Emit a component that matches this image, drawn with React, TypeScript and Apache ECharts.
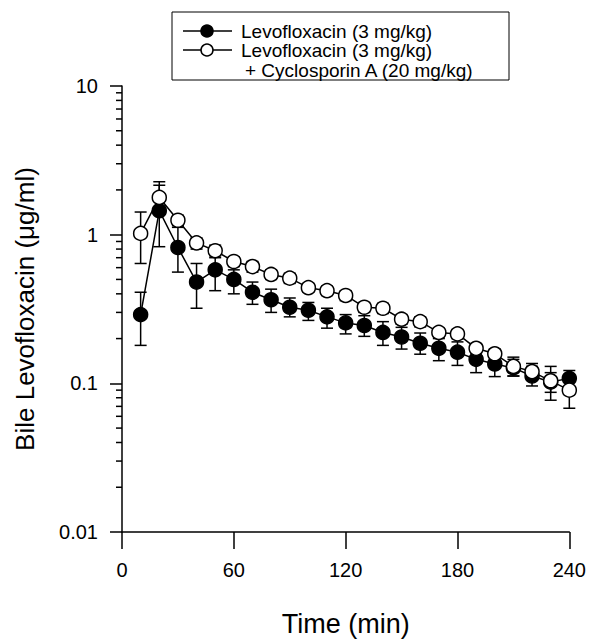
import React, { useEffect, useRef } from "react";
import * as echarts from "echarts";

const times = [10, 20, 30, 40, 50, 60, 70, 80, 90, 100, 110, 120, 130, 140, 150, 160, 170, 180, 190, 200, 210, 220, 230, 240];

const levoMean = [0.29, 1.45, 0.82, 0.48, 0.58, 0.5, 0.41, 0.365, 0.325, 0.31, 0.28, 0.255, 0.245, 0.22, 0.205, 0.186, 0.172, 0.162, 0.145, 0.135, 0.127, 0.112, 0.102, 0.108];
const levoUpper = [0.41, 2.15, 1.12, 0.64, 0.7, 0.58, 0.48, 0.43, 0.375, 0.35, 0.32, 0.29, 0.285, 0.26, 0.238, 0.218, 0.2, 0.19, 0.165, 0.15, 0.145, 0.13, 0.118, 0.122];
const levoLower = [0.18, 0.83, 0.56, 0.32, 0.42, 0.4, 0.34, 0.3, 0.28, 0.265, 0.235, 0.215, 0.207, 0.18, 0.17, 0.157, 0.142, 0.132, 0.118, 0.111, 0.112, 0.096, 0.087, 0.095];

const cyaMean = [1.02, 1.78, 1.25, 0.88, 0.78, 0.66, 0.61, 0.54, 0.51, 0.44, 0.42, 0.39, 0.325, 0.32, 0.27, 0.26, 0.22, 0.215, 0.172, 0.158, 0.13, 0.12, 0.104, 0.09];
const cyaUpper = [1.42, 2.27, 1.35, 0.95, 0.85, 0.71, 0.66, 0.58, 0.55, 0.47, 0.45, 0.42, 0.35, 0.345, 0.29, 0.28, 0.235, 0.23, 0.185, 0.17, 0.15, 0.136, 0.13, 0.105];
const cyaLower = [0.64, 1.4, 1.15, 0.8, 0.72, 0.61, 0.56, 0.5, 0.47, 0.41, 0.39, 0.36, 0.3, 0.295, 0.25, 0.24, 0.205, 0.2, 0.16, 0.146, 0.112, 0.105, 0.077, 0.068];

const xTicks = [0, 60, 120, 180, 240];
const yMinorTicks = [0.02, 0.03, 0.04, 0.05, 0.06, 0.07, 0.08, 0.09, 0.2, 0.3, 0.4, 0.5, 0.6, 0.7, 0.8, 0.9, 2, 3, 4, 5, 6, 7, 8, 9];

const legendLabels = ["Levofloxacin (3 mg/kg)", "Levofloxacin (3 mg/kg)", "+ Cyclosporin A (20 mg/kg)"];

const FONT = "Liberation Sans, Arial, Helvetica, sans-serif";

function errorSeries(name: string, mean: number[], up: number[], lo: number[]) {
  const data = times.map((t, i) => [t, mean[i], up[i], lo[i]]);
  return {
    type: "custom",
    name,
    data,
    z: 2,
    silent: true,
    renderItem: (params: any, api: any) => {
      const x = api.value(0);
      const pTop = api.coord([x, api.value(2)]);
      const pBot = api.coord([x, api.value(3)]);
      const w = 6;
      const st = { stroke: "#000", lineWidth: 1.5 };
      return {
        type: "group",
        children: [
          { type: "line", shape: { x1: pTop[0], y1: pTop[1], x2: pBot[0], y2: pBot[1] }, style: st },
          { type: "line", shape: { x1: pTop[0] - w, y1: pTop[1], x2: pTop[0] + w, y2: pTop[1] }, style: st },
          { type: "line", shape: { x1: pBot[0] - w, y1: pBot[1], x2: pBot[0] + w, y2: pBot[1] }, style: st },
        ],
      };
    },
  };
}

export default function App() {
  const ref = useRef<HTMLDivElement>(null);
  useEffect(() => {
    if (!ref.current) return;
    const chart = echarts.init(ref.current, undefined, { renderer: "svg" });
    const legendX = 183;
    const rows = [31, 50, 70];
    const option: any = {
      animation: false,
      backgroundColor: "#fff",
      textStyle: { fontFamily: FONT },
      grid: { left: 122, right: 18, top: 86, bottom: 97, containLabel: false },
      xAxis: {
        type: "value",
        min: 0,
        max: 240,
        interval: 60,
        name: "Time (min)",
        nameLocation: "middle",
        nameGap: 78,
        nameTextStyle: { fontSize: 27, color: "#000", fontFamily: FONT },
        axisLine: { lineStyle: { color: "#000", width: 1.5 } },
        axisTick: { show: true, inside: false, length: 17, lineStyle: { color: "#000", width: 1.5 } },
        axisLabel: { color: "#000", fontSize: 20, margin: 28, fontFamily: FONT, formatter: (v: number) => (xTicks.includes(v) ? String(v) : "") },
        splitLine: { show: false },
      },
      yAxis: {
        type: "log",
        logBase: 10,
        min: 0.01,
        max: 10,
        name: "Bile Levofloxacin (\u03bcg/ml)",
        nameLocation: "middle",
        nameGap: 84,
        nameTextStyle: { fontSize: 26, color: "#000", fontFamily: FONT },
        axisLine: { lineStyle: { color: "#000", width: 1.5 } },
        axisTick: { show: true, inside: false, length: 12, lineStyle: { color: "#000", width: 1.5 } },
        axisLabel: {
          color: "#000",
          fontSize: 20,
          margin: 24,
          fontFamily: FONT,
          formatter: (v: number) => (v >= 1 ? String(Math.round(v)) : String(Number(v.toPrecision(1)))),
        },
        splitLine: { show: false },
      },
      series: [
        {
          type: "custom",
          name: "minorTicks",
          data: yMinorTicks.map((v) => [0, v]),
          silent: true,
          z: 1,
          clip: false,
          renderItem: (params: any, api: any) => {
            const p = api.coord([0, api.value(1)]);
            return {
              type: "line",
              shape: { x1: p[0] - 6, y1: p[1], x2: p[0], y2: p[1] },
              style: { stroke: "#000", lineWidth: 1.5 },
            };
          },
        },
        errorSeries("levoErr", levoMean, levoUpper, levoLower),
        errorSeries("cyaErr", cyaMean, cyaUpper, cyaLower),
        {
          type: "line",
          name: "Levofloxacin (3 mg/kg)",
          data: times.map((t, i) => [t, levoMean[i]]),
          symbol: "circle",
          symbolSize: 14,
          z: 3,
          lineStyle: { color: "#000", width: 1.5 },
          itemStyle: { color: "#000", borderColor: "#000", borderWidth: 1.5 },
        },
        {
          type: "line",
          name: "Levofloxacin (3 mg/kg) + Cyclosporin A (20 mg/kg)",
          data: times.map((t, i) => [t, cyaMean[i]]),
          symbol: "circle",
          symbolSize: 14,
          z: 4,
          lineStyle: { color: "#000", width: 1.5 },
          itemStyle: { color: "#fff", borderColor: "#000", borderWidth: 1.5 },
        },
      ],
      graphic: [
        { type: "rect", shape: { x: 172, y: 12, width: 337, height: 68 }, style: { fill: "#fff", stroke: "#000", lineWidth: 1 } },
        { type: "line", shape: { x1: legendX, y1: rows[0], x2: legendX + 49, y2: rows[0] }, style: { stroke: "#000", lineWidth: 1.5 } },
        { type: "circle", shape: { cx: legendX + 24, cy: rows[0], r: 6 }, style: { fill: "#000", stroke: "#000", lineWidth: 1.5 } },
        { type: "line", shape: { x1: legendX, y1: rows[1], x2: legendX + 49, y2: rows[1] }, style: { stroke: "#000", lineWidth: 1.5 } },
        { type: "circle", shape: { cx: legendX + 24, cy: rows[1], r: 6 }, style: { fill: "#fff", stroke: "#000", lineWidth: 1.5 } },
        { type: "text", x: 241, y: rows[0], style: { text: legendLabels[0], font: `19px ${FONT}`, fill: "#000", verticalAlign: "middle" } },
        { type: "text", x: 241, y: rows[1], style: { text: legendLabels[1], font: `19px ${FONT}`, fill: "#000", verticalAlign: "middle" } },
        { type: "text", x: 245, y: rows[2], style: { text: legendLabels[2], font: `19px ${FONT}`, fill: "#000", verticalAlign: "middle" } },
      ],
    };
    chart.setOption(option);
    return () => chart.dispose();
  }, []);
  return <div ref={ref} style={{ width: 589, height: 642, position: "absolute", left: 0, top: 0 }} />;
}
